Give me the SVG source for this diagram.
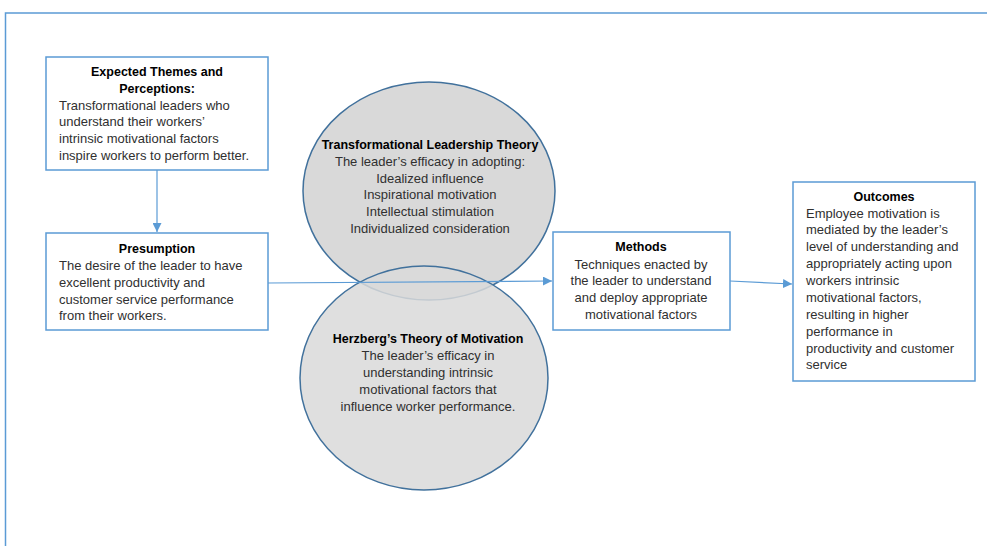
<svg xmlns="http://www.w3.org/2000/svg" width="987" height="546" viewBox="0 0 987 546">
<defs>
<style>
.box{fill:#fff;stroke:#5b9bd5;stroke-width:1.5}
.ell{fill:#d9d9d9;stroke:#41719c;stroke-width:1.5}
.t{font-family:"Liberation Sans",Arial,sans-serif;font-size:13px;fill:#303030}
.b{font-weight:bold;fill:#000;font-size:12.5px}
.c{text-anchor:middle}
.con{stroke:#5b9bd5;stroke-width:1.2;fill:none}
</style>
<marker id="ah" viewBox="0 0 10 10" refX="10" refY="5" markerWidth="9" markerHeight="9" markerUnits="userSpaceOnUse" orient="auto">
<path d="M0,0 L10,5 L0,10 z" fill="#5b9bd5"/>
</marker>
</defs>
<rect width="987" height="546" fill="#fff"/>
<path d="M987,13 H5.5 V546" fill="none" stroke="#5b9bd5" stroke-width="1.5"/>

<g id="expected">
<rect class="box" x="46" y="57" width="222" height="113"/>
<text class="t b c" x="157" y="76">Expected Themes and</text>
<text class="t b c" x="157" y="93">Perceptions:</text>
<text class="t" x="59" y="110">Transformational leaders who</text>
<text class="t" x="59" y="126">understand their workers’</text>
<text class="t" x="59" y="143">intrinsic motivational factors</text>
<text class="t" x="59" y="160">inspire workers to perform better.</text>
</g>

<g id="presumption">
<rect class="box" x="46" y="233" width="222" height="97"/>
<text class="t b c" x="157" y="253">Presumption</text>
<text class="t" x="59" y="270">The desire of the leader to have</text>
<text class="t" x="59" y="287">excellent productivity and</text>
<text class="t" x="59" y="304">customer service performance</text>
<text class="t" x="59" y="320">from their workers.</text>
</g>

<g id="transformational">
<ellipse class="ell" cx="429" cy="191" rx="126" ry="109"/>
<text class="t b c" x="430" y="149">Transformational Leadership Theory</text>
<text class="t c" x="430" y="166">The leader’s efficacy in adopting:</text>
<text class="t c" x="430" y="183">Idealized influence</text>
<text class="t c" x="430" y="199">Inspirational motivation</text>
<text class="t c" x="430" y="216">Intellectual stimulation</text>
<text class="t c" x="430" y="233">Individualized consideration</text>
</g>

<g id="herzberg">
<ellipse class="ell" cx="424" cy="378" rx="124" ry="112" fill-opacity="0.85"/>
<text class="t b c" x="428" y="343">Herzberg’s Theory of Motivation</text>
<text class="t c" x="428" y="360">The leader’s efficacy in</text>
<text class="t c" x="428" y="377">understanding intrinsic</text>
<text class="t c" x="428" y="394">motivational factors that</text>
<text class="t c" x="428" y="411">influence worker performance.</text>
</g>

<g id="methods">
<rect class="box" x="553" y="232" width="177" height="98"/>
<text class="t b c" x="641" y="251">Methods</text>
<text class="t c" x="641" y="269">Techniques enacted by</text>
<text class="t c" x="641" y="285">the leader to understand</text>
<text class="t c" x="641" y="302">and deploy appropriate</text>
<text class="t c" x="641" y="319">motivational factors</text>
</g>

<g id="outcomes">
<rect class="box" x="793" y="182" width="182" height="199"/>
<text class="t b c" x="884" y="201">Outcomes</text>
<text class="t" x="806" y="218">Employee motivation is</text>
<text class="t" x="806" y="234">mediated by the leader’s</text>
<text class="t" x="806" y="251">level of understanding and</text>
<text class="t" x="806" y="268">appropriately acting upon</text>
<text class="t" x="806" y="285">workers intrinsic</text>
<text class="t" x="806" y="302">motivational factors,</text>
<text class="t" x="806" y="319">resulting in higher</text>
<text class="t" x="806" y="336">performance in</text>
<text class="t" x="806" y="353">productivity and customer</text>
<text class="t" x="806" y="369">service</text>
</g>

<g id="connectors">
<line class="con" x1="157" y1="170" x2="157" y2="232" marker-end="url(#ah)"/>
<line class="con" x1="268" y1="283" x2="552" y2="281" marker-end="url(#ah)"/>
<line class="con" x1="730" y1="281" x2="792" y2="284" marker-end="url(#ah)"/>
</g>
</svg>
